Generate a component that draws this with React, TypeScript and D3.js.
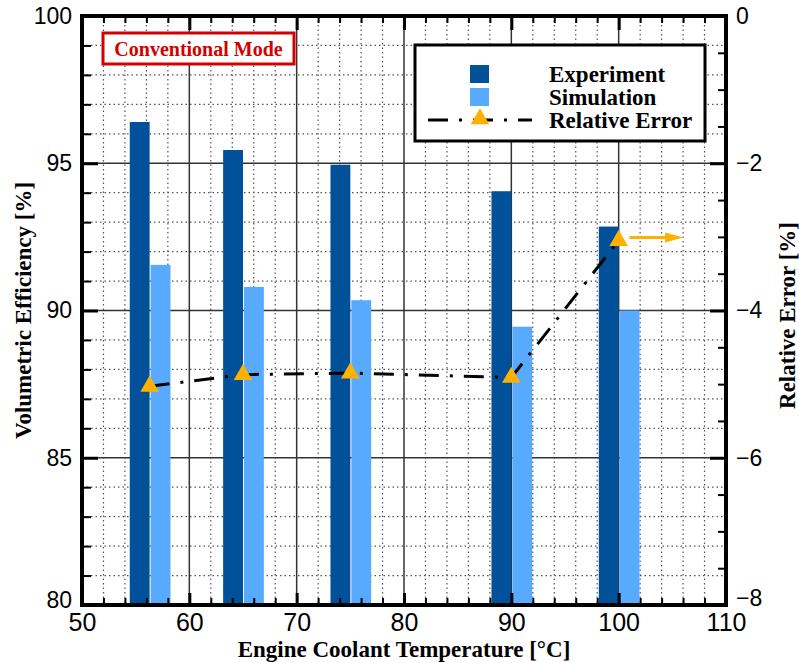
import React, { useRef, useEffect } from 'react';
import * as d3 from 'd3';

// coolant temperature of each test point [°C]
const temps = [56.3, 65, 75, 90, 100];
// volumetric efficiency [%]
const experiment = [96.4, 95.45, 94.95, 94.05, 92.85];
const simulation = [91.55, 90.8, 90.35, 89.45, 90.0];
// relative error [%], right axis
const relError = [-5.03, -4.87, -4.85, -4.91, -3.05];

const xTicks = [50, 60, 70, 80, 90, 100, 110];
const leftTicks = [80, 85, 90, 95, 100];
const rightTicks = [-8, -6, -4, -2, 0];

// arrow marking which axis the error line belongs to
const arrowFrom = 101;
const arrowTo = 106;

const W = 799;
const H = 663;
const barW = 1.85;

const DARK = '#00509a';
const LIGHT = '#58aaff';
const ORANGE = '#ffb000';
const SANS = '"Liberation Sans", Arial, sans-serif';
const SERIF = '"Liberation Serif", "Times New Roman", serif';

const App = () => {
  const ref = useRef<SVGSVGElement>(null);

  useEffect(() => {
    const margin = { top: 16, right: 73, bottom: 58, left: 82 };
    const svg = d3.select(ref.current);
    svg.selectAll('*').remove();

    const x = d3.scaleLinear().domain([50, 110]).range([margin.left, W - margin.right]);
    const yL = d3.scaleLinear().domain([80, 100]).range([H - margin.bottom, margin.top]);
    const yR = d3.scaleLinear().domain([-8, 0]).range([H - margin.bottom, margin.top]);
    const [x0, x1] = x.range();
    const [yb, yt] = yL.range();

    svg.append('rect').attr('width', W).attr('height', H).attr('fill', '#fff');

    // dotted minor grid
    const xMinor = d3.range(52, 110, 2).filter(v => v % 10 !== 0);
    const yMinor = d3.range(81, 100, 1).filter(v => v % 5 !== 0);
    const grid = svg.append('g');
    grid.selectAll('.gx').data(xMinor).join('line')
      .attr('x1', d => x(d)).attr('x2', d => x(d)).attr('y1', yt).attr('y2', yb)
      .attr('stroke', '#555').attr('stroke-width', 1.2).attr('stroke-dasharray', '1.5,3');
    grid.selectAll('.gy').data(yMinor).join('line')
      .attr('x1', x0).attr('x2', x1).attr('y1', d => yL(d)).attr('y2', d => yL(d))
      .attr('stroke', '#555').attr('stroke-width', 1.2).attr('stroke-dasharray', '1.5,3');
    // solid major grid
    grid.selectAll('.Gx').data(xTicks.slice(1, -1)).join('line')
      .attr('x1', d => x(d)).attr('x2', d => x(d)).attr('y1', yt).attr('y2', yb)
      .attr('stroke', '#333').attr('stroke-width', 1.5);
    grid.selectAll('.Gy').data(leftTicks.slice(1, -1)).join('line')
      .attr('x1', x0).attr('x2', x1).attr('y1', d => yL(d)).attr('y2', d => yL(d))
      .attr('stroke', '#333').attr('stroke-width', 1.5);

    // bars
    svg.append('g').selectAll('rect').data(temps).join('rect')
      .attr('x', d => x(d - barW)).attr('width', x(barW) - x(0))
      .attr('y', (d, i) => yL(experiment[i])).attr('height', (d, i) => yb - yL(experiment[i]))
      .attr('fill', DARK);
    svg.append('g').selectAll('rect').data(temps).join('rect')
      .attr('x', d => x(d) + 1).attr('width', x(barW) - x(0))
      .attr('y', (d, i) => yL(simulation[i])).attr('height', (d, i) => yb - yL(simulation[i]))
      .attr('fill', LIGHT);

    // relative error line
    const pts = temps.map((t, i) => [t, relError[i]] as [number, number]);
    const line = d3.line<[number, number]>().x(d => x(d[0])).y(d => yR(d[1]));
    svg.append('path').datum(pts).attr('d', line)
      .attr('fill', 'none').attr('stroke', '#000').attr('stroke-width', 3)
      .attr('stroke-dasharray', '20,11,3,11');

    const tri = d3.symbol().type(d3.symbolTriangle).size(150);
    svg.append('g').selectAll('path').data(pts).join('path')
      .attr('d', tri)
      .attr('transform', d => `translate(${x(d[0])},${yR(d[1])})`)
      .attr('fill', ORANGE);

    // arrow
    const ay = yR(relError[relError.length - 1]) - 3;
    svg.append('line')
      .attr('x1', x(arrowFrom)).attr('x2', x(arrowTo) - 16).attr('y1', ay).attr('y2', ay)
      .attr('stroke', ORANGE).attr('stroke-width', 3);
    svg.append('path')
      .attr('d', `M${x(arrowTo) - 18},${ay - 5}L${x(arrowTo)},${ay}L${x(arrowTo) - 18},${ay + 5}Z`)
      .attr('fill', ORANGE);

    // axes
    const styleAxis = (g, major) => {
      g.select('.domain').remove();
      g.selectAll('line').attr('stroke', '#000').attr('stroke-width', major ? 3 : 2);
      g.selectAll('text').attr('fill', '#000').style('font-family', SANS);
    };
    const xMinorAll = d3.range(52, 110, 2).filter(v => v % 10 !== 0);
    const yLMinor = d3.range(81, 100, 1).filter(v => v % 5 !== 0);
    const yRMinor = d3.range(-7.5, 0, 0.5).filter(v => v % 2 !== 0);

    const bottom = svg.append('g').attr('transform', `translate(0,${yb})`)
      .call(d3.axisBottom(x).tickValues(xTicks).tickSize(-12).tickPadding(8).tickFormat(d3.format('d')));
    styleAxis(bottom, true);
    bottom.selectAll('text').style('font-size', '25px');
    styleAxis(svg.append('g').attr('transform', `translate(0,${yb})`)
      .call(d3.axisBottom(x).tickValues(xMinorAll).tickSize(-7).tickFormat(() => '')), false);

    const top = svg.append('g').attr('transform', `translate(0,${yt})`)
      .call(d3.axisTop(x).tickValues(xTicks).tickSize(-14).tickFormat(() => ''));
    styleAxis(top, true);
    styleAxis(svg.append('g').attr('transform', `translate(0,${yt})`)
      .call(d3.axisTop(x).tickValues(xMinorAll).tickSize(-7).tickFormat(() => '')), false);

    const left = svg.append('g').attr('transform', `translate(${x0},0)`)
      .call(d3.axisLeft(yL).tickValues(leftTicks).tickSize(-16).tickPadding(10).tickFormat(d3.format('d')));
    styleAxis(left, true);
    left.selectAll('text').style('font-size', '23px');
    left.selectAll('text').filter(d => d === 80).attr('y', -5);
    styleAxis(svg.append('g').attr('transform', `translate(${x0},0)`)
      .call(d3.axisLeft(yL).tickValues(yLMinor).tickSize(-9).tickFormat(() => '')), false);

    const right = svg.append('g').attr('transform', `translate(${x1},0)`)
      .call(d3.axisRight(yR).tickValues(rightTicks).tickSize(-16).tickPadding(10).tickFormat(d3.format('d')));
    styleAxis(right, true);
    right.selectAll('text').style('font-size', '23px');
    right.selectAll('text').filter(d => d === -8).attr('y', -7);
    styleAxis(svg.append('g').attr('transform', `translate(${x1},0)`)
      .call(d3.axisRight(yR).tickValues(yRMinor).tickSize(-8).tickFormat(() => '')), false);

    svg.append('rect').attr('x', x0).attr('y', yt).attr('width', x1 - x0).attr('height', yb - yt)
      .attr('fill', 'none').attr('stroke', '#000').attr('stroke-width', 4);

    // axis titles
    const title = (sel) => sel.style('font-family', SERIF).style('font-weight', 'bold')
      .style('font-size', '23px').attr('text-anchor', 'middle').attr('fill', '#000');
    title(svg.append('text').attr('x', (x0 + x1) / 2).attr('y', 657)
      .text('Engine Coolant Temperature [°C]'));
    title(svg.append('text').attr('transform', `translate(23,${(yt + yb) / 2}) rotate(-90)`)
      .attr('dominant-baseline', 'central').text('Volumetric Efficiency [%]'));
    title(svg.append('text').attr('transform', `translate(787,${(yt + yb) / 2 + 5}) rotate(-90)`)
      .attr('dominant-baseline', 'central').text('Relative Error [%]'));

    // mode label
    svg.append('rect').attr('x', 103).attr('y', 33).attr('width', 191).attr('height', 31)
      .attr('fill', '#fff').attr('stroke', '#d40000').attr('stroke-width', 3);
    svg.append('text').attr('x', 198.5).attr('y', 56).attr('text-anchor', 'middle')
      .style('font-family', SERIF).style('font-weight', 'bold').style('font-size', '20px')
      .attr('fill', '#d40000').text('Conventional Mode');

    // legend
    const lg = svg.append('g');
    lg.append('rect').attr('x', 415).attr('y', 45).attr('width', 290).attr('height', 96)
      .attr('fill', '#fff').attr('stroke', '#000').attr('stroke-width', 3);
    lg.append('rect').attr('x', 470).attr('y', 65).attr('width', 19).attr('height', 18).attr('fill', DARK);
    lg.append('rect').attr('x', 470).attr('y', 88).attr('width', 19).attr('height', 18).attr('fill', LIGHT);
    lg.append('line').attr('x1', 428).attr('x2', 532).attr('y1', 120).attr('y2', 120)
      .attr('stroke', '#000').attr('stroke-width', 3).attr('stroke-dasharray', '20,11,3,11');
    lg.append('path').attr('d', tri).attr('transform', 'translate(480,119)').attr('fill', ORANGE);
    const names = ['Experiment', 'Simulation', 'Relative Error'];
    lg.selectAll('.lt').data(names).join('text')
      .attr('x', 549).attr('y', (d, i) => 82 + i * 23)
      .style('font-family', SERIF).style('font-weight', 'bold').style('font-size', '23px')
      .attr('fill', '#000').text(d => d);
  }, []);

  return <svg ref={ref} width={W} height={H} style={{ position: 'absolute', left: 0, top: 0 }}></svg>;
};

export default App;
